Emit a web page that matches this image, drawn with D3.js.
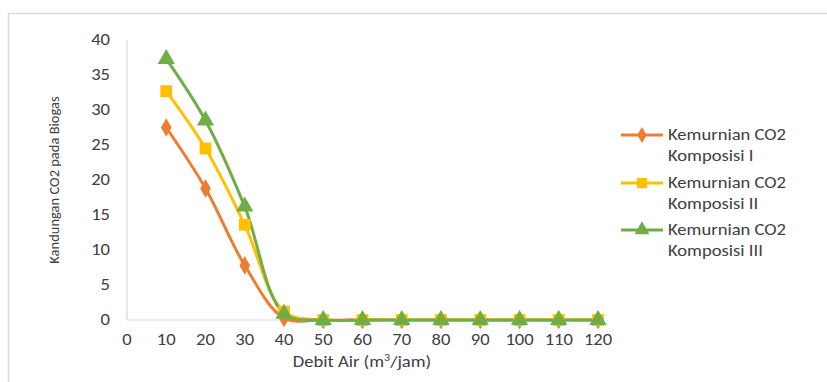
<!DOCTYPE html>
<html><head><meta charset="utf-8">
<script src="https://cdn.jsdelivr.net/npm/d3@7/dist/d3.min.js"></script>
<style>body{margin:0;background:#fff}svg{display:block}text{font-family:Calibri,Carlito,"Open Sans",sans-serif;fill:#404040}</style>
</head><body>
<svg id="c" width="827" height="382"></svg>
<script>
const xValues = [10,20,30,40,50,60,70,80,90,100,110,120];
const seriesI = [27.5,18.8,7.8,0.3,0,0,0,0,0,0,0,0];
const seriesII = [32.7,24.5,13.6,1.2,0,0,0,0,0,0,0,0];
const seriesIII = [37.3,28.5,16.2,0.9,0,0,0,0,0,0,0,0];
const xTicks = [0,10,20,30,40,50,60,70,80,90,100,110,120];
const yTicks = [0,5,10,15,20,25,30,35,40];
const seriesNames = [["Kemurnian CO2","Komposisi I"],["Kemurnian CO2","Komposisi II"],["Kemurnian CO2","Komposisi III"]];
const colors = ["#ED7D31","#FFC000","#70AD47"];
const symbols = [d3.symbolDiamond, d3.symbolSquare, d3.symbolTriangle];

const SX = 1.2;
const svg = d3.select("#c");
svg.append("path").attr("d","M8.5,382 V13.5 H827").attr("fill","none").attr("stroke","#d9d9d9").attr("stroke-width",1.5);

const x = d3.scaleLinear().domain([0,120]).range([127,598]);
const y = d3.scaleLinear().domain([0,40]).range([320,40]);

svg.append("line").attr("x1",x(0)).attr("x2",x(120)).attr("y1",y(0)).attr("y2",y(0)).attr("stroke","#d9d9d9").attr("stroke-width",1.2);
svg.append("line").attr("x1",x(0)).attr("x2",x(0)).attr("y1",y(0)).attr("y2",y(40)).attr("stroke","#d9d9d9").attr("stroke-width",1.2);

function stext(g, px, py, anchor, size){
  return g.append("text").attr("transform",`translate(${px},${py}) scale(${SX},1)`)
    .attr("dy","0.35em").attr("text-anchor",anchor).attr("font-size",size);
}
yTicks.forEach(d=>stext(svg, x(0)-17, y(d), "end", 15.5).text(d));
xTicks.forEach(d=>stext(svg, x(d), y(0)+20, "middle", 15.5).text(d));

const xt = stext(svg, 362, 362, "middle", 15.5);
xt.append("tspan").text("Debit Air (m");
xt.append("tspan").attr("font-size",10).attr("dy",-6).text("3");
xt.append("tspan").attr("dy",6).text("/jam)");

svg.append("text").attr("transform","translate(54,180) rotate(-90)").attr("dy","0.35em").attr("text-anchor","middle")
  .attr("font-size",14.5).text("Kandungan CO2 pada Biogas");

const data = [seriesI, seriesII, seriesIII];
const line = d3.line().x((d,i)=>x(xValues[i])).y(d=>y(d)).curve(d3.curveCatmullRom.alpha(0.5));
const sizes = [100,140,130];
data.forEach((s,k)=>{
  svg.append("path").attr("d",line(s)).attr("fill","none").attr("stroke",colors[k]).attr("stroke-width",3);
});
data.forEach((s,k)=>{
  svg.append("g").selectAll("path").data(s).join("path")
    .attr("transform",(d,i)=>`translate(${x(xValues[i])},${y(d)})`)
    .attr("d",d3.symbol(symbols[k],sizes[k])).attr("fill",colors[k]);
});

const ly = [135,183,230];
seriesNames.forEach((n,k)=>{
  const g = svg.append("g");
  g.append("line").attr("x1",621).attr("x2",663).attr("y1",ly[k]).attr("y2",ly[k]).attr("stroke",colors[k]).attr("stroke-width",3);
  g.append("path").attr("transform",`translate(642,${ly[k]})`).attr("d",d3.symbol(symbols[k],sizes[k]*0.75)).attr("fill",colors[k]);
  stext(g, 668, ly[k], "start", 15.5).text(n[0]);
  stext(g, 668, ly[k]+21, "start", 15.5).text(n[1]);
});
</script>
</body></html>
